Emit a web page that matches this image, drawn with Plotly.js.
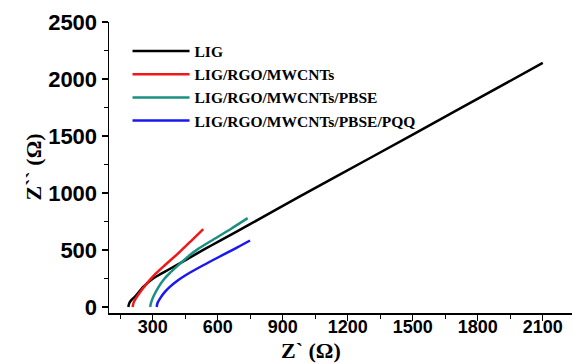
<!DOCTYPE html>
<html>
<head>
<meta charset="utf-8">
<script src="https://cdn.plot.ly/plotly-3.0.1.min.js"></script>
<style>html,body{margin:0;padding:0;background:#fff;}#chart{width:572px;height:363px;}</style>
</head>
<body>
<div id="chart"></div>
<script>
// Series names
const seriesNames = ["LIG", "LIG/RGO/MWCNTs", "LIG/RGO/MWCNTs/PBSE", "LIG/RGO/MWCNTs/PBSE/PQQ"];

// LIG
const ligX = [187, 192, 200, 218, 257, 303, 380, 457, 533, 611, 749, 977, 1303, 1700, 2100];
const ligY = [0, 35, 58, 91, 178, 252, 335, 418, 501, 582, 726, 968, 1307, 1722, 2141];

// LIG/RGO/MWCNTs
const rgoX = [207, 212, 222, 234, 272, 310, 349, 426, 480, 533];
const rgoY = [0, 40, 75, 110, 205, 285, 354, 486, 585, 683];

// LIG/RGO/MWCNTs/PBSE
const pbseX = [288, 292, 303, 325, 349, 380, 411, 455, 503, 580, 660, 738];
const pbseY = [0, 35, 91, 170, 237, 300, 354, 430, 501, 592, 684, 779];

// LIG/RGO/MWCNTs/PBSE/PQQ
const pqqX = [318, 322, 334, 355, 380, 415, 457, 533, 603, 680, 749];
const pqqY = [0, 35, 76, 130, 178, 232, 285, 366, 436, 512, 583];

// Axis ticks
const xTicks = [300, 600, 900, 1200, 1500, 1800, 2100];
const yTicks = [0, 500, 1000, 1500, 2000, 2500];

const colors = ["#000000", "#f01818", "#1b9080", "#1818f0"];
const xs = [ligX, rgoX, pbseX, pqqX];
const ys = [ligY, rgoY, pbseY, pqqY];

const traces = seriesNames.map((n, i) => ({
  x: xs[i], y: ys[i], name: n, type: "scatter", mode: "lines",
  line: {color: colors[i], width: 2.5, shape: "spline", smoothing: 0.7}
}));

const serif = "'Liberation Serif', 'Times New Roman', serif";
const sans = "'Liberation Sans', Arial, sans-serif";

const layout = {
  width: 572, height: 363,
  margin: {l: 109, r: 0, t: 22, b: 50},
  paper_bgcolor: "#fff", plot_bgcolor: "#fff",
  showlegend: true,
  legend: {
    x: 0.04, y: 0.957, xanchor: "left", yanchor: "top",
    bgcolor: "rgba(0,0,0,0)", itemwidth: 57,
    font: {family: serif, size: 15.5, color: "#000", weight: "bold"},
    tracegroupgap: 0
  },
  xaxis: {
    range: [98, 2235], tickvals: xTicks, ticktext: xTicks.map(String),
    ticks: "outside", ticklen: 6, tickwidth: 1.3, tickcolor: "#000",
    ticklabelstandoff: -9,
    showline: true, linecolor: "#000", linewidth: 1.5, mirror: false,
    showgrid: false, zeroline: false,
    tickfont: {family: sans, size: 18, color: "#000", weight: "bold"},
    minor: {dtick: 150, tick0: 0, ticks: "outside", ticklen: 4, tickcolor: "#000", tickwidth: 1.2, showgrid: false}
  },
  yaxis: {
    range: [-53, 2500], tickvals: yTicks, ticktext: yTicks.map(String),
    ticks: "outside", ticklen: 6, tickwidth: 1.3, tickcolor: "#000",
    showline: true, linecolor: "#000", linewidth: 1.5, mirror: false,
    showgrid: false, zeroline: false,
    tickfont: {family: sans, size: 22, color: "#000", weight: "bold"},
    minor: {dtick: 250, tick0: 0, ticks: "outside", ticklen: 4, tickcolor: "#000", tickwidth: 1.2, showgrid: false}
  },
  annotations: [
    {text: "Z` (Ω)", xref: "paper", yref: "paper", x: (311 - 109) / 463, y: -0.128,
     xanchor: "center", yanchor: "middle", showarrow: false,
     font: {family: serif, size: 22, color: "#000", weight: "bold"}},
    {text: "Z`` (Ω)", xref: "paper", yref: "paper", x: (33 - 109) / 463, y: 0.5,
     xanchor: "center", yanchor: "middle", showarrow: false, textangle: -90,
     font: {family: serif, size: 22, color: "#000", weight: "bold"}}
  ]
};

Plotly.newPlot("chart", traces, layout, {displayModeBar: false, staticPlot: true});
</script>
</body>
</html>
